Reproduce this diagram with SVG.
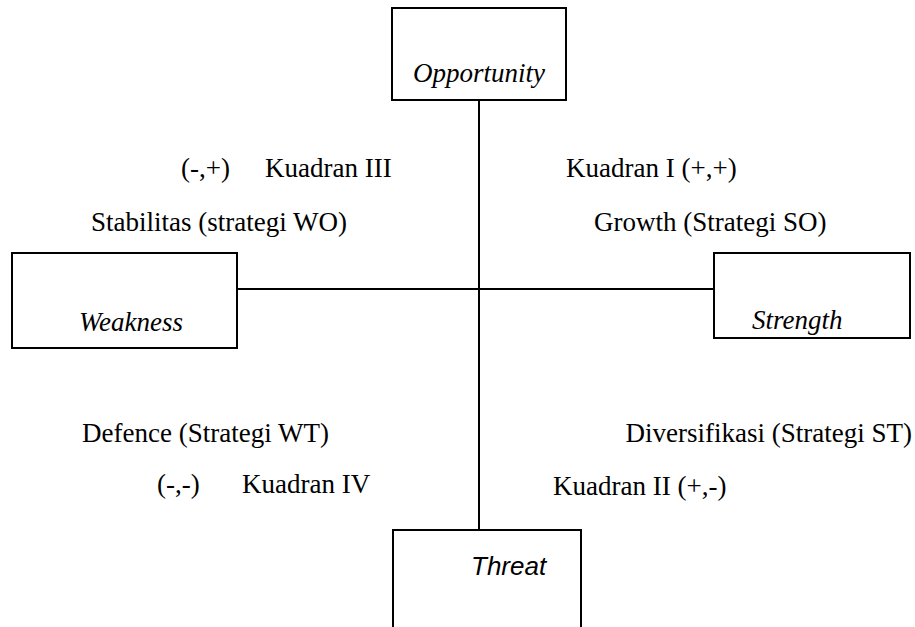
<svg xmlns="http://www.w3.org/2000/svg" width="915" height="627" viewBox="0 0 915 627">
<style>
.box{fill:#fff;stroke:#000;stroke-width:2}
.ln{stroke:#000;stroke-width:2;fill:none}
.t{font-family:'Liberation Serif','Times New Roman','DejaVu Serif',serif;font-size:27px;fill:#000}
.i{font-family:'Liberation Serif','Times New Roman','DejaVu Serif',serif;font-size:27px;font-style:italic;fill:#000}
.a{font-family:'Liberation Sans',Arial,sans-serif;font-size:26px;font-style:italic;fill:#000}
</style>
<rect width="915" height="627" fill="#fff"/>
<g id="connectors">
<line class="ln" x1="479" y1="100" x2="479" y2="530"/>
<line class="ln" x1="237" y1="289" x2="714" y2="289"/>
</g>
<g id="opportunity">
<rect class="box" x="392" y="8" width="174" height="92"/>
<text class="i" x="413" y="82">Opportunity</text>
</g>
<g id="weakness">
<rect class="box" x="12" y="253" width="225" height="95"/>
<text class="i" x="79" y="331">Weakness</text>
</g>
<g id="strength">
<rect class="box" x="714" y="253" width="196" height="85"/>
<text class="i" x="752" y="329">Strength</text>
</g>
<g id="threat">
<rect class="box" x="393" y="530" width="188" height="110"/>
<text class="a" x="471" y="575">Threat</text>
</g>
<g id="labels">
<text class="t" x="181" y="177">(-,+)</text>
<text class="t" x="265" y="177">Kuadran III</text>
<text class="t" x="566" y="177">Kuadran I (+,+)</text>
<text class="t" x="91" y="231">Stabilitas (strategi WO)</text>
<text class="t" x="594" y="231">Growth (Strategi SO)</text>
<text class="t" x="82" y="442">Defence (Strategi WT)</text>
<text class="t" x="912" y="442" text-anchor="end">Diversifikasi (Strategi ST)</text>
<text class="t" x="157" y="493">(-,-)</text>
<text class="t" x="242" y="493">Kuadran IV</text>
<text class="t" x="553" y="495">Kuadran II (+,-)</text>
</g>
</svg>
